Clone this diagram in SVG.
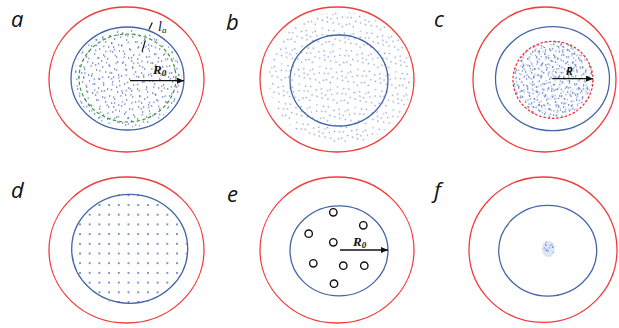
<svg xmlns="http://www.w3.org/2000/svg" xmlns:xlink="http://www.w3.org/1999/xlink" width="619" height="328" viewBox="0 0 619 328">
<style>
.red{fill:none;stroke:#f23b3b;stroke-width:1.3}
.blue{fill:none;stroke:#4565a6;stroke-width:1.3}
.green{fill:none;stroke:#3d9a3d;stroke-width:1.2;stroke-dasharray:3.5 2.5}
.reddash{fill:none;stroke:#f0282d;stroke-width:1.2;stroke-dasharray:2.5 1.8}
.dot{fill:none;stroke:#4a6bbd;stroke-width:1.3;stroke-opacity:0.85}
.lbl{font-family:"Open Sans","Liberation Sans",sans-serif;font-style:italic;font-size:22px;fill:#111}
.math{font-family:"Liberation Serif","DejaVu Serif",serif;font-style:italic;font-weight:bold;fill:#111}
.arrow{stroke:#111;stroke-width:1.3;fill:none}
.hole{fill:#fff;stroke:#111;stroke-width:1.4}
</style>
<defs>
<marker id="ah" markerUnits="userSpaceOnUse" markerWidth="7" markerHeight="6" refX="7" refY="3" orient="auto"><path d="M0,0L7,3L0,6z" fill="#111"/></marker>
<path id="tA" class="dot" d="M2 3h1.3M11 1h1.3M19 6h1.3M27 2h1.3M6 10h1.3M15 12h1.3M24 9h1.3M1 16h1.3M9 19h1.3M18 17h1.3M28 15h1.3M4 24h1.3M13 25h1.3M22 22h1.3M26 27h1.3M8 28h1.3M17 29h1.3M21 13h1.3M12 7h1.3M29 21h1.3M5 5h1.3M23 17h1.3"/>
<path id="tB" class="dot" d="M4 1h1.3M14 4h1.3M25 6h1.3M8 8h1.3M19 10h1.3M29 11h1.3M2 12h1.3M11 14h1.3M22 15h1.3M6 19h1.3M16 20h1.3M26 21h1.3M1 26h1.3M10 24h1.3M20 27h1.3M28 29h1.3M13 29h1.3M24 1h1.3"/>
<pattern id="pA" width="30" height="30" patternUnits="userSpaceOnUse"><use xlink:href="#tA"/></pattern>
<pattern id="pB" width="30" height="30" patternUnits="userSpaceOnUse" patternTransform="rotate(23) translate(3 5)"><use xlink:href="#tB"/></pattern>
<pattern id="pC" width="30" height="30" patternUnits="userSpaceOnUse" patternTransform="rotate(-41) scale(0.9)"><use xlink:href="#tA"/></pattern>
<pattern id="pD" width="30" height="30" patternUnits="userSpaceOnUse" patternTransform="rotate(67) scale(0.8)"><use xlink:href="#tB"/></pattern>
<pattern id="pG" x="75.15" y="200.15" width="9.7" height="9.7" patternUnits="userSpaceOnUse"><circle cx="4.85" cy="4.85" r="0.9" fill="#4262b2"/></pattern>
<clipPath id="cA"><ellipse cx="127.5" cy="78.5" rx="54" ry="49"/></clipPath>
<clipPath id="cB"><ellipse cx="340.5" cy="78" rx="72" ry="66"/></clipPath>
<clipPath id="cC"><ellipse cx="553" cy="79.8" rx="40" ry="38.5"/></clipPath>
<clipPath id="cD"><ellipse cx="129" cy="249" rx="58" ry="56"/></clipPath>
<clipPath id="cF"><ellipse cx="548.3" cy="249" rx="6.5" ry="8"/></clipPath>
</defs>

<g id="panel-a">
<text class="lbl" x="11" y="27">a</text>
<ellipse class="red" cx="126.5" cy="79.5" rx="77.5" ry="72.5"/>
<g clip-path="url(#cA)"><rect x="70" y="25" width="115" height="110" fill="url(#pA)"/><rect x="70" y="25" width="115" height="110" fill="url(#pB)"/></g>
<ellipse class="blue" cx="127.5" cy="78.5" rx="56.5" ry="51.5"/>
<ellipse class="green" cx="127.5" cy="78" rx="48.5" ry="44"/>
<text class="math" x="153" y="74" font-size="13">R<tspan font-size="9" dy="2">0</tspan></text>
<text x="158" y="31" font-family="Liberation Serif,serif" font-style="italic" font-size="14" fill="#111">l<tspan font-size="9" dy="2">a</tspan></text>
<line x1="149" y1="29.5" x2="152.3" y2="22.5" stroke="#111" stroke-width="1.2"/>
<line x1="142" y1="51.7" x2="145.3" y2="40.7" stroke="#111" stroke-width="1.2"/>
</g>

<g id="panel-b">
<text class="lbl" x="226" y="30">b</text>
<ellipse class="red" cx="337" cy="79.5" rx="77" ry="72.5"/>
<g clip-path="url(#cB)"><rect x="265" y="8" width="150" height="140" fill="url(#pC)"/></g>
<ellipse class="blue" cx="339" cy="80.5" rx="49" ry="45.5"/>
</g>

<g id="panel-c">
<text class="lbl" x="434" y="27">c</text>
<ellipse class="red" cx="544.5" cy="79.5" rx="71.5" ry="72.5"/>
<ellipse class="blue" cx="552.5" cy="78.7" rx="57" ry="52"/>
<g clip-path="url(#cC)"><rect x="510" y="38" width="86" height="84" fill="url(#pA)"/><rect x="510" y="38" width="86" height="84" fill="url(#pB)"/><rect x="510" y="38" width="86" height="84" fill="url(#pC)"/><rect x="510" y="38" width="86" height="84" fill="url(#pD)"/></g>
<ellipse class="reddash" cx="553" cy="79.8" rx="40" ry="38.5"/>
<text x="566" y="75" font-family="Open Sans,Liberation Sans,sans-serif" font-style="italic" font-weight="bold" font-size="11" fill="#111">R</text>
</g>

<g id="panel-d">
<text class="lbl" x="11" y="198">d</text>
<ellipse class="red" cx="126.5" cy="250" rx="77.5" ry="73"/>
<g clip-path="url(#cD)"><rect x="70" y="192" width="120" height="115" fill="url(#pG)"/></g>
<ellipse class="blue" cx="129.7" cy="248.8" rx="58" ry="54.5"/>
</g>

<g id="panel-e">
<text class="lbl" x="227" y="202">e</text>
<ellipse class="red" cx="337" cy="250" rx="77" ry="73"/>
<ellipse class="blue" cx="339" cy="250.8" rx="49" ry="45"/>
<circle class="hole" cx="333.3" cy="212.3" r="3.7"/>
<circle class="hole" cx="363.3" cy="225.3" r="3.7"/>
<circle class="hole" cx="308.7" cy="233.7" r="3.7"/>
<circle class="hole" cx="333.3" cy="242.3" r="3.7"/>
<circle class="hole" cx="313.3" cy="263.3" r="3.7"/>
<circle class="hole" cx="343.3" cy="265.7" r="3.7"/>
<circle class="hole" cx="364.3" cy="265.7" r="3.7"/>
<circle class="hole" cx="334" cy="283.7" r="3.7"/>
<text class="math" x="353" y="246" font-size="13">R<tspan font-size="9" dy="2">0</tspan></text>
</g>

<g id="panel-f">
<text class="lbl" x="434" y="198">f</text>
<ellipse class="red" cx="543" cy="249.7" rx="74" ry="72.7"/>
<ellipse class="blue" cx="547.7" cy="250.7" rx="49" ry="45.4"/>
<ellipse cx="548.3" cy="249" rx="6.5" ry="8" fill="#c8d3ec" fill-opacity="0.6"/>
<g clip-path="url(#cF)"><rect x="540" y="240" width="17" height="18" fill="url(#pA)"/><rect x="540" y="240" width="17" height="18" fill="url(#pC)"/><rect x="540" y="240" width="17" height="18" fill="url(#pD)"/></g>
</g>

<g id="connectors">
<line class="arrow" x1="130" y1="80.7" x2="184" y2="80.7" marker-end="url(#ah)"/>
<line class="arrow" x1="552.3" y1="78.7" x2="593" y2="78.7" marker-end="url(#ah)"/>
<line class="arrow" x1="340" y1="250" x2="388" y2="250" marker-end="url(#ah)"/>
</g>
</svg>
